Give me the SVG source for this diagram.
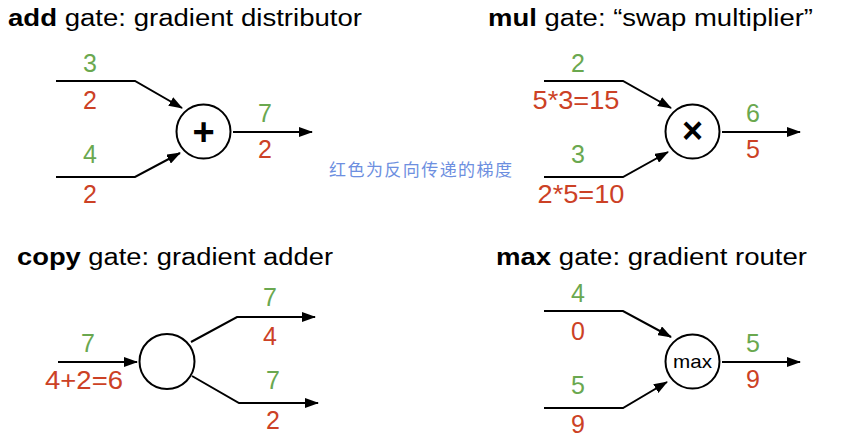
<svg xmlns="http://www.w3.org/2000/svg" width="846" height="442" viewBox="0 0 846 442">
<style>
.t{font-family:"Liberation Sans",Arial,sans-serif;font-size:23px;fill:#000}
.b{font-weight:bold}
.g{font-family:"Liberation Sans",Arial,sans-serif;font-size:25px;fill:#6aa84f;text-anchor:middle}
.r{font-family:"Liberation Sans",Arial,sans-serif;font-size:25px;fill:#cc4125;text-anchor:middle}
.ar{fill:none;stroke:#000;stroke-width:2;marker-end:url(#ah)}
.node{fill:#fff;stroke:#000;stroke-width:2}
.sym{font-family:"Liberation Sans",Arial,sans-serif;font-weight:bold;fill:#000;text-anchor:middle}
.cn{font-family:"Noto Sans CJK SC","Noto Sans",sans-serif;font-size:17px;fill:#6d8fe0}
</style>
<defs>
<marker id="ah" viewBox="0 0 14 10" refX="13" refY="5" markerWidth="14" markerHeight="10" orient="auto" markerUnits="userSpaceOnUse">
<path d="M0,0 L14,5 L0,10 z" fill="#000"/>
</marker>
</defs>
<g id="titles">
<text class="t" x="8" y="26" textLength="354" lengthAdjust="spacingAndGlyphs"><tspan class="b">add</tspan> gate: gradient distributor</text>
<text class="t" x="488" y="26" textLength="325" lengthAdjust="spacingAndGlyphs"><tspan class="b">mul</tspan> gate: “swap multiplier”</text>
<text class="t" x="17" y="265" textLength="316" lengthAdjust="spacingAndGlyphs"><tspan class="b">copy</tspan> gate: gradient adder</text>
<text class="t" x="496" y="265" textLength="311" lengthAdjust="spacingAndGlyphs"><tspan class="b">max</tspan> gate: gradient router</text>
</g>
<g id="connectors">
<path class="ar" d="M56,81 H135 L182,108"/>
<path class="ar" d="M56,177 H135 L180,153"/>
<path class="ar" d="M233,132 H312"/>
<path class="ar" d="M544,81 H623 L671,108"/>
<path class="ar" d="M544,177 H623 L668,152"/>
<path class="ar" d="M722,132 H800"/>
<path class="ar" d="M58,362 H137"/>
<path class="ar" d="M191,342 L237,317 H315"/>
<path class="ar" d="M192,376 L239,403 H318"/>
<path class="ar" d="M544,311 H623 L671,337"/>
<path class="ar" d="M544,408 H623 L667,382"/>
<path class="ar" d="M722,362 H800"/>
</g>
<g id="add">
<circle class="node" cx="203.5" cy="131.5" r="27"/>
<text class="sym" x="203.5" y="144.5" font-size="38">+</text>
</g>
<g id="mul">
<circle class="node" cx="692.5" cy="131.5" r="27"/>
<text class="sym" x="692.5" y="143" font-size="36">×</text>
</g>
<g id="copy">
<circle class="node" cx="167" cy="361.5" r="27.5"/>
</g>
<g id="max">
<circle class="node" cx="692.5" cy="361.5" r="27"/>
<text x="692.5" y="368" font-family="'Liberation Sans',Arial,sans-serif" font-size="19" text-anchor="middle" textLength="39" lengthAdjust="spacingAndGlyphs">max</text>
</g>
<g id="labels">
<text class="g" x="90" y="72">3</text>
<text class="r" x="90" y="109">2</text>
<text class="g" x="90" y="163">4</text>
<text class="r" x="90" y="203">2</text>
<text class="g" x="265" y="122">7</text>
<text class="r" x="265" y="158">2</text>

<text class="g" x="578" y="72">2</text>
<text class="r" x="576" y="109" textLength="87" lengthAdjust="spacingAndGlyphs">5*3=15</text>
<text class="g" x="578" y="163">3</text>
<text class="r" x="581" y="203" textLength="87" lengthAdjust="spacingAndGlyphs">2*5=10</text>
<text class="g" x="753" y="122">6</text>
<text class="r" x="753" y="158">5</text>

<text class="g" x="88" y="352">7</text>
<text class="r" x="84" y="389" textLength="78" lengthAdjust="spacingAndGlyphs">4+2=6</text>
<text class="g" x="270" y="306">7</text>
<text class="r" x="270" y="345">4</text>
<text class="g" x="273" y="389">7</text>
<text class="r" x="273" y="429">2</text>

<text class="g" x="578" y="302">4</text>
<text class="r" x="578" y="340">0</text>
<text class="g" x="578" y="394">5</text>
<text class="r" x="578" y="433">9</text>
<text class="g" x="753" y="352">5</text>
<text class="r" x="753" y="388">9</text>
</g>
<text class="cn" x="329" y="176" textLength="183" lengthAdjust="spacing">红色为反向传递的梯度</text>
</svg>
